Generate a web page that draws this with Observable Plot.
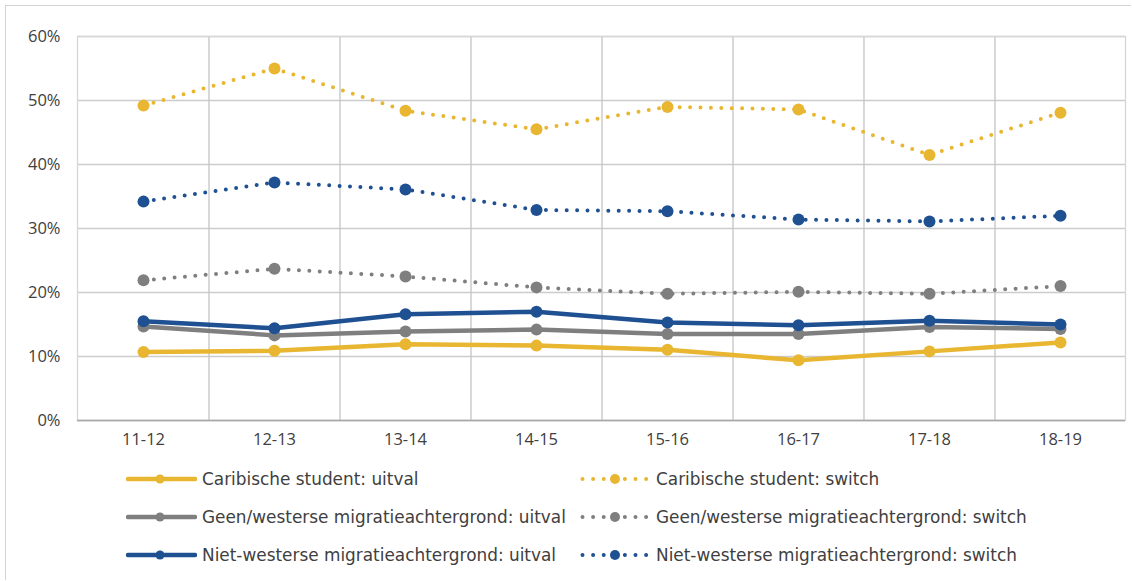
<!DOCTYPE html>
<html><head><meta charset="utf-8">
<script src="https://cdn.jsdelivr.net/npm/d3@7"></script>
<script src="https://cdn.jsdelivr.net/npm/@observablehq/plot@0.6"></script>
<style>
html,body{margin:0;padding:0;background:#fff;}
body{width:1132px;height:581px;overflow:hidden;position:relative;font-family:"Open Sans",sans-serif;}
#frame{position:absolute;left:5px;top:5px;width:1125px;height:574px;border-top:1.5px solid #d2d2d2;border-left:1.5px solid #d2d2d2;}
#chart{position:absolute;left:0;top:0;width:1132px;}
.item{position:absolute;display:flex;align-items:center;height:22px;font-family:"DejaVu Sans",sans-serif;font-size:16.9px;color:#404040;white-space:nowrap;}
.item svg{display:block;margin-right:5px;}
</style></head><body>
<div id="frame"></div>
<div id="chart"></div>
<div id="legend"></div>
<script>
const categories = ["11-12","12-13","13-14","14-15","15-16","16-17","17-18","18-19"];
const yTicks = [0,10,20,30,40,50,60];
const caribUitval = [10.7, 10.9, 11.9, 11.7, 11.05, 9.4, 10.8, 12.2];
const caribSwitch = [49.2, 55.0, 48.4, 45.5, 49.0, 48.6, 41.5, 48.1];
const geenUitval  = [14.7, 13.3, 13.9, 14.2, 13.5, 13.5, 14.6, 14.3];
const geenSwitch  = [21.9, 23.7, 22.5, 20.8, 19.8, 20.1, 19.8, 21.0];
const nietUitval  = [15.5, 14.4, 16.6, 17.0, 15.3, 14.9, 15.6, 15.0];
const nietSwitch  = [34.2, 37.2, 36.1, 32.9, 32.7, 31.4, 31.1, 32.0];

const GOLD = "#E8B630", GRAY = "#7F7F7F", BLUE = "#1F5091";
const series = [
  {name:"Caribische student: uitval", values:caribUitval, color:GOLD, dotted:false},
  {name:"Caribische student: switch", values:caribSwitch, color:GOLD, dotted:true},
  {name:"Geen/westerse migratieachtergrond: uitval", values:geenUitval, color:GRAY, dotted:false},
  {name:"Geen/westerse migratieachtergrond: switch", values:geenSwitch, color:GRAY, dotted:true},
  {name:"Niet-westerse migratieachtergrond: uitval", values:nietUitval, color:BLUE, dotted:false},
  {name:"Niet-westerse migratieachtergrond: switch", values:nietSwitch, color:BLUE, dotted:true}
];

const W = 1132, ML = 77, MR = 7;
const step = (W - ML - MR) / categories.length;
const DASH = "0 10.4";

const marks = [
  Plot.gridY(yTicks, {stroke:"#cccccc", strokeOpacity:1, strokeWidth:1.3}),
  Plot.ruleX(categories.slice(0, -1), {x: d => d, dx: step / 2, stroke:"#c4c4c4", strokeWidth:1.3}),
  Plot.frame({stroke:"#d6d6d6", strokeWidth:1.3}),
  Plot.ruleY([0], {stroke:"#a8a8a8", strokeWidth:1.3}),
  Plot.axisY(yTicks, {tickSize:0, tickPadding:17, tickFormat: d => d + "%", label:null, fontSize:16.5, fill:"#404040"}),
  Plot.axisX({tickSize:0, tickPadding:13, label:null, fontSize:16.5, fill:"#404040"})
];
for (const s of series) {
  const rows = categories.map((c, i) => ({cat:c, v:s.values[i]}));
  marks.push(Plot.line(rows, {x:"cat", y:"v", stroke:s.color, strokeWidth: s.dotted ? 4 : 4.5,
    strokeDasharray: s.dotted ? DASH : null, strokeLinecap:"round", strokeLinejoin:"round"}));
  marks.push(Plot.dot(rows, {x:"cat", y:"v", r:6, fill:s.color, stroke:"none"}));
}

const chart = Plot.plot({
  width: W, height: 460,
  marginLeft: ML, marginRight: MR, marginTop: 36, marginBottom: 40,
  x: {type:"point", domain: categories, padding: 0.5, label:null},
  y: {domain:[0,60], label:null},
  style: {fontFamily:"'Open Sans', sans-serif", fontSize:"16px", color:"#404040", background:"transparent"},
  marks
});
document.getElementById("chart").appendChild(chart);

// legend (below the SVG)
const legend = document.getElementById("legend");
const rowsY = [479, 517, 555];
const colX = [126, 580];
series.forEach((s, i) => {
  const col = i % 2, row = Math.floor(i / 2);
  const div = document.createElement("div");
  div.className = "item";
  div.style.left = colX[col] + "px";
  div.style.top = (rowsY[row] - 11) + "px";
  const ns = "http://www.w3.org/2000/svg";
  const svg = document.createElementNS(ns, "svg");
  svg.setAttribute("width", 71); svg.setAttribute("height", 14);
  const line = document.createElementNS(ns, "line");
  line.setAttribute("x1", s.dotted ? 2.5 : 2); line.setAttribute("x2", s.dotted ? 68.5 : 69);
  line.setAttribute("y1", 7); line.setAttribute("y2", 7);
  line.setAttribute("stroke", s.color);
  line.setAttribute("stroke-width", s.dotted ? 4 : 4.5);
  line.setAttribute("stroke-linecap", "round");
  if (s.dotted) line.setAttribute("stroke-dasharray", "0 10.6");
  svg.appendChild(line);
  const c = document.createElementNS(ns, "circle");
  c.setAttribute("cx", s.dotted ? 35 : 34); c.setAttribute("cy", 7);
  c.setAttribute("r", s.dotted ? 5 : 4.5); c.setAttribute("fill", s.color);
  svg.appendChild(c);
  div.appendChild(svg);
  const span = document.createElement("span");
  span.textContent = s.name;
  div.appendChild(span);
  legend.appendChild(div);
});
</script>
</body></html>
